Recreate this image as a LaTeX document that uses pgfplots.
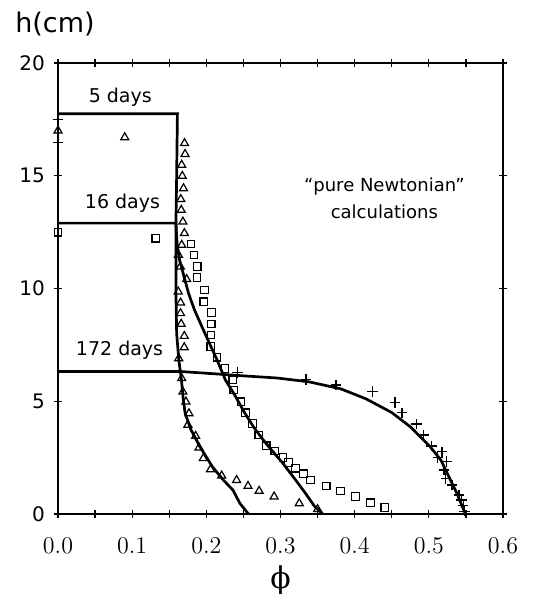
\documentclass[border=0pt]{standalone}
\usepackage{pgfplots}
\pgfplotsset{compat=1.18}
\usepackage{fontspec}
\setmainfont{DejaVu Sans}
\newfontfamily\phifont{DejaVu Serif}
\begin{document}
\begin{tikzpicture}
\useasboundingbox (-29pt,-40pt) rectangle (243pt,257pt);
\begin{axis}[
  at={(0,0)}, anchor=south west,
  scale only axis, width=222.5pt, height=225.5pt,
  xmin=0, xmax=0.6, ymin=0, ymax=20,
  clip=false,
  axis line style={line width=0.7pt},
  xtick={0,0.1,0.2,0.3,0.4,0.5,0.6},
  minor xtick={0.05,0.15,0.25,0.35,0.45,0.55},
  ytick={0,5,10,15,20},
  tick align=center,
  major tick length=4pt, minor tick length=4pt,
  every tick/.style={black, line width=0.6pt},
  xticklabel style={/pgf/number format/.cd, fixed, fixed zerofill, precision=1, /tikz/.cd, yshift=-6.5pt, font=\fontsize{12}{14}\selectfont},
  yticklabel style={/pgf/number format/assume math mode=true, font=\fontsize{10}{12}\selectfont, xshift=-1pt},
  xlabel={\phifont ϕ},
  every axis x label/.style={at={(axis description cs:0.5,0)}, anchor=center, yshift=-33pt, font=\fontsize{15}{17}\selectfont},
  ylabel={h(cm)},
  every axis y label/.style={at={(axis description cs:0,1)}, anchor=center, xshift=-1.5pt, yshift=19.5pt, font=\fontsize{13.5}{16}\selectfont},
]
% curves
\addplot[black, line width=1.35pt] coordinates {
(0,17.75) (0.161,17.75) (0.160,15) (0.159,12.9) (0.159,9.8) (0.160,8.0) (0.163,6.8) (0.1665,5.94) (0.169,5.05) (0.1715,4.46) (0.1795,3.72) (0.1915,2.98) (0.2083,2.09) (0.2231,1.50) (0.2359,1.06) (0.2453,0.47) (0.2568,0)};
\addplot[black, line width=1.35pt] coordinates {
(0,12.9) (0.159,12.9) (0.1605,12.0) (0.164,11.26) (0.1700,10.52) (0.1760,9.79) (0.1840,9.05) (0.1940,8.31) (0.2042,7.57) (0.2145,6.83) (0.2258,5.94) (0.2382,5.28) (0.2507,4.54) (0.2635,3.87) (0.2785,3.21) (0.2935,2.62) (0.302,2.3) (0.316,1.7) (0.333,0.95) (0.3457,0.35) (0.357,0)};
\addplot[black, line width=1.35pt] coordinates {
(0,6.32) (0.165,6.32) (0.21,6.22) (0.2528,6.12) (0.2958,6.03) (0.3386,5.86) (0.3814,5.55) (0.4157,5.1) (0.45,4.5) (0.4757,3.85) (0.5014,3.0) (0.5163,2.39) (0.5271,1.65) (0.5378,0.92) (0.5493,0)};
% triangles (5 days)
\addplot[black, only marks, mark=triangle, mark size=2.3pt, mark options={line width=0.6pt}] coordinates {
(0.09,16.7)
(0.1706,16.44) (0.1713,15.96) (0.1668,15.48) (0.1676,14.99) (0.1692,14.44) (0.1656,13.96) (0.1662,13.48) (0.1684,12.96) (0.1704,12.45) (0.1668,11.93) (0.1624,11.49) (0.1649,10.97) (0.1735,10.41) (0.1621,9.86) (0.1653,9.37) (0.1652,8.90) (0.1661,8.43) (0.1703,7.89) (0.1702,7.39) (0.1628,6.90) (0.1668,6.02)
(0.1684,5.42) (0.1725,4.98) (0.1766,4.46) (0.1751,3.95) (0.1856,3.46) (0.1901,2.94) (0.1959,2.47) (0.2057,1.98) (0.2207,1.70) (0.2408,1.50) (0.2562,1.24) (0.2712,1.02) (0.2914,0.77) (0.3253,0.47) (0.35,0.21)};
\addplot[black, only marks, mark=triangle, mark size=2.3pt, mark options={line width=0.6pt},
  error bars/.cd, y dir=both, y explicit, error mark options={black, mark size=2.5pt, rotate=90}] coordinates {(0,17.0) +- (0,0.5)};
% squares (16 days)
\addplot[black, only marks, mark=square, mark size=1.9pt, mark options={line width=0.6pt}] coordinates {
(0,12.5) (0.132,12.23)
(0.1793,11.97) (0.1835,11.49) (0.1877,10.97) (0.1875,10.48) (0.1976,9.93) (0.1965,9.41) (0.2070,8.93) (0.2067,8.43) (0.2064,7.94) (0.2061,7.42) (0.2145,6.95) (0.2251,6.46) (0.2356,5.94) (0.2371,5.50) (0.2468,4.98) (0.2530,4.49) (0.2623,4.02) (0.2708,3.50) (0.2807,3.02) (0.2923,2.79) (0.3034,2.51) (0.3109,2.28) (0.3202,2.03) (0.3309,1.78) (0.3406,1.51) (0.3615,1.24) (0.3811,1.02) (0.4011,0.77) (0.4211,0.50) (0.4406,0.28)};
% plus (172 days)
\addplot[black, only marks, mark=+, mark size=2.6pt, mark options={line width=0.7pt}] coordinates {
(0.2422,6.27) (0.3343,5.96) (0.3749,5.72) (0.4243,5.44) (0.4542,4.95) (0.4636,4.49) (0.4834,3.99) (0.4928,3.50) (0.5035,3.02) (0.5176,2.76) (0.512,2.51) (0.5237,2.32) (0.5207,1.95) (0.5228,1.58) (0.5314,1.29) (0.5408,0.84) (0.5442,0.62) (0.5464,0.37) (0.548,0.12)};
% annotations
\node[font=\fontsize{9.5}{11}\selectfont] at (axis cs:0.084,18.5) {5 days};
\node[font=\fontsize{9.5}{11}\selectfont] at (axis cs:0.087,13.78) {16 days};
\node[font=\fontsize{9.5}{11}\selectfont] at (axis cs:0.083,7.25) {172 days};
\node[font=\fontsize{9}{13.5}\selectfont, align=center] at (axis cs:0.44,14.0) {``pure Newtonian''\\calculations};
\end{axis}
\end{tikzpicture}
\end{document}
